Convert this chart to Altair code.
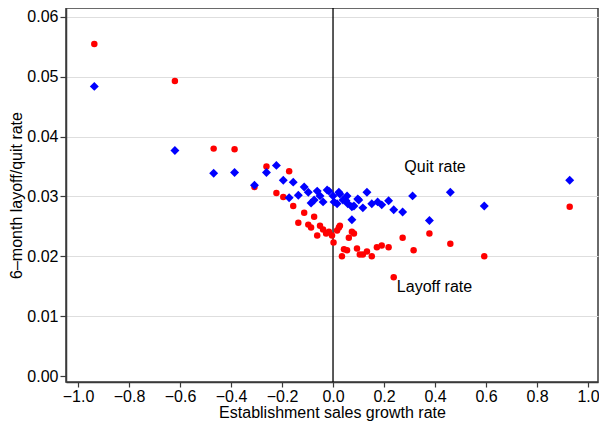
import altair as alt
import pandas as pd

# Quit rate (blue diamonds)
quit_x = [-0.936, -0.620, -0.468, -0.386, -0.308, -0.261, -0.222, -0.195, -0.172, -0.156,
          -0.136, -0.113, -0.097, -0.086, -0.074, -0.062, -0.051, -0.039, -0.023, -0.016,
          0.000, 0.004, 0.016, 0.023, 0.027, 0.039, 0.051, 0.055, 0.058, 0.074,
          0.074, 0.082, 0.097, 0.101, 0.133, 0.117, 0.152, 0.175, 0.191, 0.218,
          0.238, 0.273, 0.312, 0.378, 0.460, 0.593, 0.928]
quit_y = [0.0484, 0.0377, 0.0339, 0.0340, 0.0319, 0.0340, 0.0352, 0.0327, 0.0298, 0.0324,
          0.0302, 0.0316, 0.0307, 0.0289, 0.0294, 0.0309, 0.0301, 0.0291, 0.0311, 0.0309,
          0.0301, 0.0291, 0.0288, 0.0307, 0.0304, 0.0294, 0.0293, 0.0301, 0.0288, 0.0283,
          0.0261, 0.0284, 0.0296, 0.0294, 0.0307, 0.0281, 0.0288, 0.0291, 0.0286, 0.0293,
          0.0278, 0.0274, 0.0301, 0.0260, 0.0307, 0.0284, 0.0327]

# Layoff rate (red circles)
layoff_x = [-0.936, -0.620, -0.468, -0.386, -0.308, -0.261, -0.222, -0.195, -0.172, -0.156,
            -0.136, -0.113, -0.097, -0.086, -0.074, -0.062, -0.051, -0.039, -0.027, -0.016,
            -0.004, 0.002, 0.016, 0.023, 0.027, 0.035, 0.043, 0.055, 0.062, 0.074,
            0.082, 0.094, 0.105, 0.117, 0.133, 0.152, 0.172, 0.191, 0.218, 0.238,
            0.273, 0.316, 0.378, 0.460, 0.593, 0.928]
layoff_y = [0.0555, 0.0493, 0.0380, 0.0379, 0.0316, 0.0350, 0.0306, 0.0299, 0.0342, 0.0284,
            0.0256, 0.0273, 0.0253, 0.0248, 0.0266, 0.0235, 0.0251, 0.0245, 0.0238, 0.0241,
            0.0235, 0.0223, 0.0243, 0.0248, 0.0251, 0.0200, 0.0212, 0.0210, 0.0231, 0.0241,
            0.0238, 0.0213, 0.0203, 0.0203, 0.0208, 0.0200, 0.0215, 0.0218, 0.0215, 0.0165,
            0.0231, 0.0210, 0.0238, 0.0221, 0.0200, 0.0283]

label_text = ["Quit rate", "Layoff rate"]
label_x = [0.400, 0.398]
label_y = [0.03405, 0.01405]

x_ticks = [-1.0, -0.8, -0.6, -0.4, -0.2, 0.0, 0.2, 0.4, 0.6, 0.8, 1.0]
y_ticks = [0.00, 0.01, 0.02, 0.03, 0.04, 0.05, 0.06]

FONT = "Liberation Sans"

quit_df = pd.DataFrame({"x": quit_x, "y": quit_y})
layoff_df = pd.DataFrame({"x": layoff_x, "y": layoff_y})
label_df = pd.DataFrame({"text": label_text, "x": label_x, "y": label_y})
zero_df = pd.DataFrame({"x": [0.0]})

xscale = alt.Scale(domain=[-1.047, 1.039], nice=False, zero=False)
yscale = alt.Scale(domain=[-0.001, 0.0615], nice=False, zero=False)

xaxis = alt.Axis(values=x_ticks, format=".1f", title="Establishment sales growth rate",
                 grid=False, tickSize=5, labelPadding=1, titlePadding=0)
yaxis = alt.Axis(values=y_ticks, format=".2f", title="6–month layoff/quit rate",
                 grid=True,
                 gridColor={"condition": {"test": "datum.value === 0", "value": "transparent"},
                            "value": "#dedede"},
                 tickSize=6, labelPadding=2, titlePadding=2)

base_x = alt.X("x:Q", scale=xscale, axis=xaxis)
base_y = alt.Y("y:Q", scale=yscale, axis=yaxis)

layoff = alt.Chart(layoff_df).mark_point(
    shape="circle", filled=True, color="#ff0000", size=42, opacity=1
).encode(x=base_x, y=base_y)

quit = alt.Chart(quit_df).mark_point(
    shape="diamond", filled=True, color="#0000ff", size=80, opacity=1
).encode(x=alt.X("x:Q", scale=xscale), y=alt.Y("y:Q", scale=yscale))

zero_line = alt.Chart(zero_df).mark_rule(color="black", strokeWidth=1.3).encode(
    x=alt.X("x:Q", scale=xscale)
)

labels = alt.Chart(label_df).mark_text(
    font=FONT, fontSize=16, color="black", align="center", baseline="alphabetic"
).encode(x=alt.X("x:Q", scale=xscale), y=alt.Y("y:Q", scale=yscale), text="text:N")

chart = alt.layer(zero_line, layoff, quit, labels).properties(
    width=532, height=374,
    autosize=alt.AutoSizeParams(type="none"),
    padding={"left": 58, "top": 0, "right": 1, "bottom": 39},
).configure_view(
    stroke="#3a3a3a", strokeWidth=1.5
).configure_axis(
    labelFont=FONT, titleFont=FONT, labelFontSize=16, titleFontSize=16,
    labelColor="black", titleColor="black", titleFontWeight="normal",
    domainColor="#3a3a3a", domainWidth=1.5, tickColor="#3a3a3a", tickWidth=1.2,
)

chart.save("out.html", embed_options={"renderer": "svg", "actions": False})
